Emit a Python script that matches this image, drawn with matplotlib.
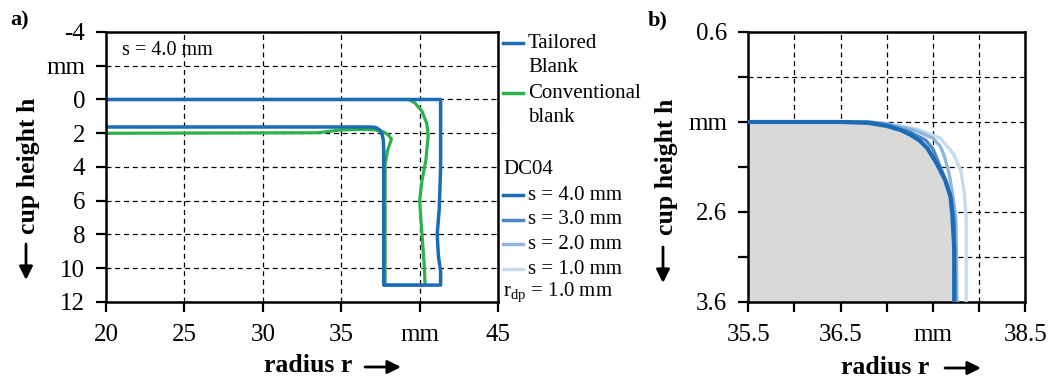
import numpy as np
import matplotlib.pyplot as plt
from matplotlib.lines import Line2D
from matplotlib.patches import FancyArrowPatch

plt.rcParams['font.family'] = ['Liberation Serif', 'DejaVu Serif']

# ---- panel a data: cup profile outlines (radius r in mm, cup height h in mm)
tailored_r = [20, 41.34, 41.34, 41.25, 41.12, 41.2, 41.34, 41.34, 37.71, 37.71, 37.68, 37.6, 37.45, 37.2, 36.9, 20]
tailored_h = [0, 0, 4, 6.5, 8, 9.3, 10.2, 11, 11, 3.0, 2.4, 2.05, 1.8, 1.66, 1.63, 1.63]

conventional_r = [20, 39.3, 39.7, 40.15, 40.45, 40.55, 40.4, 40.15, 40.0, 40.15, 40.3, 40.35,
                  37.8, 37.8, 37.95, 38.2, 38.0, 37.7, 37.2, 36.5, 35.0, 33.5, 20]
conventional_h = [0, 0, 0.2, 0.7, 1.4, 2.1, 3.6, 4.8, 6.0, 8.0, 9.9, 11,
                  11, 3.85, 3.05, 2.35, 2.1, 1.92, 1.8, 1.77, 1.8, 1.97, 2.0]

# ---- panel b data: die radius region for different sheet thicknesses
s_labels = ['s = 4.0 mm', 's = 3.0 mm', 's = 2.0 mm', 's = 1.0 mm']
s_colors = ['#1b6cb5', '#4d87c6', '#8fb5df', '#c6dbf0']
s4_r = [35.5, 36.5, 36.8, 37.0, 37.15, 37.26, 37.36, 37.44, 37.54, 37.63, 37.69, 37.71, 37.73, 37.73]
s4_h = [1.6, 1.6, 1.61, 1.644, 1.69, 1.744, 1.81, 1.893, 2.06, 2.24, 2.43, 2.64, 3.0, 3.6]
s3_r = [35.5, 36.8, 37.0, 37.25, 37.42, 37.5, 37.56, 37.64, 37.7, 37.73, 37.74]
s3_h = [1.6, 1.6, 1.63, 1.71, 1.8, 1.9, 2.05, 2.25, 2.45, 2.7, 3.6]
s2_r = [35.5, 36.8, 37.0, 37.3, 37.5, 37.58, 37.63, 37.68, 37.72, 37.75, 37.76]
s2_h = [1.6, 1.6, 1.62, 1.69, 1.78, 1.87, 2.0, 2.2, 2.45, 2.7, 3.6]
s1_r = [35.5, 36.8, 37.0, 37.33, 37.58, 37.72, 37.8, 37.84, 37.86, 37.86]
s1_h = [1.6, 1.6, 1.62, 1.68, 1.78, 1.95, 2.13, 2.39, 2.68, 3.6]
s_r = [s4_r, s3_r, s2_r, s1_r]
s_h = [s4_h, s3_h, s2_h, s1_h]

a_xticks = [20, 25, 30, 35, 40, 45]
a_xlabels = ['20', '25', '30', '35', 'mm', '45']
a_yticks = [-4, -2, 0, 2, 4, 6, 8, 10, 12]
a_ylabels = ['-4', 'mm', '0', '2', '4', '6', '8', '10', '12']
b_xticks = [35.5, 36.0, 36.5, 37.0, 37.5, 38.0, 38.5]
b_xlabels = ['35.5', '', '36.5', '', 'mm', '', '38.5']
b_yticks = [0.6, 1.1, 1.6, 2.1, 2.6, 3.1, 3.6]
b_ylabels = ['0.6', '', 'mm', '', '2.6', '', '3.6']

TAILORED = '#1b6cb5'
CONVENTIONAL = '#2cb24b'

fig = plt.figure(figsize=(10.52, 3.79), dpi=100)
ax_a = fig.add_axes([0.1008, 0.2032, 0.3726, 0.7124])
ax_b = fig.add_axes([0.7113, 0.2032, 0.2633, 0.7124])


def style_axis(ax):
    for sp in ax.spines.values():
        sp.set_linewidth(1.8)
        sp.set_color('black')
    ax.tick_params(direction='out', length=7, width=1.6, labelsize=18)
    ax.tick_params(axis='y', pad=8)
    ax.tick_params(axis='x', pad=9)
    ax.grid(True, color='black', linestyle=(0, (4, 3)), linewidth=0.9)
    ax.set_axisbelow(True)


# panel a
ax_a.plot(conventional_r, conventional_h, color=CONVENTIONAL, lw=2.3, solid_joinstyle='round')
ax_a.plot(tailored_r, tailored_h, color=TAILORED, lw=2.5, solid_joinstyle='round')
ax_a.set_xlim(20, 45)
ax_a.set_ylim(12, -4)
ax_a.set_xticks(a_xticks, a_xlabels)
ax_a.set_yticks(a_yticks, a_ylabels)
style_axis(ax_a)
ax_a.text(0.04, 0.93, 's = 4.0 mm', transform=ax_a.transAxes, fontsize=14.5, va='center')

# panel b
ax_b.fill(s4_r + [35.5], s4_h + [3.6], color='#d9d9d9', zorder=1, lw=0)
for r, h, c in reversed(list(zip(s_r, s_h, s_colors))):
    lw = 3.0 if c == s_colors[0] else 2.4
    ax_b.plot(r, h, color=c, lw=lw, zorder=3)
ax_b.set_xlim(35.5, 38.5)
ax_b.set_ylim(3.6, 0.6)
ax_b.set_xticks(b_xticks, b_xlabels)
ax_b.set_yticks(b_yticks, b_ylabels)
style_axis(ax_b)
ax_b.grid(True, color='black', linestyle=(0, (4, 3)), linewidth=0.9, zorder=2)

# legend drawn by hand between the panels
W, H = 1052.0, 379.0
leg_x0, leg_x1, txt_x = 503 / W, 523 / W, 528 / W
fs_leg = 15
entries = [(TAILORED, 'Tailored', 43), (None, 'Blank', 68),
           (CONVENTIONAL, 'Conventional', 93), (None, 'blank', 118)]
for c, lab, y in entries:
    if c is not None:
        fig.add_artist(Line2D([leg_x0, leg_x1], [1 - y / H] * 2, color=c, lw=2.5))
    fig.text(txt_x, 1 - y / H, lab, fontsize=fs_leg, va='center')
fig.text(leg_x0, 1 - 170 / H, 'DC04', fontsize=fs_leg, va='center')
for i, (lab, c) in enumerate(zip(s_labels, s_colors)):
    y = 1 - (195 + 24.7 * i) / H
    fig.add_artist(Line2D([leg_x0, leg_x1], [y, y], color=c, lw=2.5))
    fig.text(txt_x, y, lab, fontsize=fs_leg, va='center')
fig.text(leg_x0, 1 - 293 / H, r'r$_{\mathregular{dp}}$ = 1.0 mm', fontsize=fs_leg, va='center')

# axis labels with arrows
fs_lab = 18.5
fig.text(308 / W, 1 - 366 / H, 'radius r', fontsize=fs_lab, fontweight='bold', ha='center', va='center')
fig.text(885 / W, 1 - 367 / H, 'radius r', fontsize=fs_lab, fontweight='bold', ha='center', va='center')
fig.text(28 / W, 1 - 166 / H, 'cup height h', fontsize=fs_lab, fontweight='bold', rotation=90,
         ha='center', va='center')
fig.text(666 / W, 1 - 167 / H, 'cup height h', fontsize=fs_lab, fontweight='bold', rotation=90,
         ha='center', va='center')
arrow = dict(arrowstyle='-|>', lw=2, color='black', mutation_scale=20, shrinkA=0, shrinkB=0)
for (x0, y0), (x1, y1) in [((365, 367), (401, 367)), ((945, 368), (981, 368)),
                           ((26, 244), (26, 280)), ((663, 247), (663, 283))]:
    fig.add_artist(FancyArrowPatch((x0 / W, 1 - y0 / H), (x1 / W, 1 - y1 / H),
                                   transform=fig.transFigure, **arrow))

fig.text(10 / W, 1 - 20 / H, 'a)', fontsize=16, fontweight='bold', va='center')
fig.text(648 / W, 1 - 20 / H, 'b)', fontsize=16, fontweight='bold', va='center')

fig.savefig('out.png', dpi=100)
